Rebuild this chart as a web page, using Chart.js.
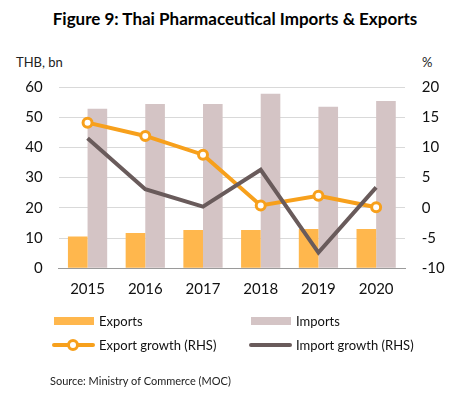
<!DOCTYPE html>
<html>
<head>
<meta charset="utf-8">
<script src="https://cdn.jsdelivr.net/npm/chart.js@4.4.0/dist/chart.umd.min.js"></script>
<style>
    html, body { margin: 0; padding: 0; background: #fff; }
    body { width: 453px; height: 399px; position: relative; overflow: hidden; font-family: Lato, sans-serif; color: #000; }
    .title { position: absolute; left: 0; top: 7px; width: 470px; text-align: center; font-weight: bold; font-size: 17px; line-height: 24px; }
    .axis-title { position: absolute; top: 54px; font-size: 13px; line-height: 16px; color: #222; }
    #wrap { position: absolute; left: 0; top: 40px; width: 453px; height: 270px; }
    #legend { position: absolute; left: 52px; top: 309px; display: grid; grid-template-columns: 197px 197px; grid-auto-rows: 24px; font-size: 13px; }
    .item { display: flex; align-items: center; color: #111; }
    .swatch { width: 42px; height: 24px; margin-right: 5px; position: relative; }
    .source { position: absolute; left: 50px; top: 374px; font-size: 11px; line-height: 14px; color: #222; }
</style>
</head>
<body>
<div class="title">Figure 9: Thai Pharmaceutical Imports &amp; Exports</div>
<div class="axis-title" style="left:16px">THB, bn</div>
<div class="axis-title" style="left:422px">%</div>
<div id="wrap"><canvas id="chart" width="453" height="270"></canvas></div>
<div id="legend"></div>
<div class="source">Source: Ministry of Commerce (MOC)</div>

<script>
// values
const years = ['2015', '2016', '2017', '2018', '2019', '2020'];
const exportsBn = [10.5, 11.7, 12.7, 12.7, 13.0, 13.0];
const importsBn = [52.8, 54.4, 54.4, 57.8, 53.5, 55.4];
const exportGrowth = [14.1, 11.9, 8.8, 0.4, 2.0, 0.1];
const importGrowth = [11.5, 3.1, 0.2, 6.3, -7.4, 3.4];

const ORANGE_BAR = '#FFB74D';
const GREY_BAR = '#D4C4C5';
const ORANGE_LINE = '#F7A01C';
const DARK_LINE = '#695B5B';

const tickFont = { family: 'Lato', size: 15 };

const datasets = [
    {
        type: 'bar', label: 'Exports', data: exportsBn, yAxisID: 'y',
        backgroundColor: ORANGE_BAR, order: 2,
        categoryPercentage: 0.68, barPercentage: 1.0,
    },
    {
        type: 'bar', label: 'Imports', data: importsBn, yAxisID: 'y',
        backgroundColor: GREY_BAR, order: 2,
        categoryPercentage: 0.68, barPercentage: 1.0,
    },
    {
        type: 'line', label: 'Export growth (RHS)', data: exportGrowth, yAxisID: 'y1',
        borderColor: ORANGE_LINE, borderWidth: 4, order: 1,
        pointRadius: 4.5, pointBorderWidth: 3,
        pointBackgroundColor: '#fff', pointBorderColor: ORANGE_LINE,
        tension: 0,
    },
    {
        type: 'line', label: 'Import growth (RHS)', data: importGrowth, yAxisID: 'y1',
        borderColor: DARK_LINE, borderWidth: 4, order: 0,
        pointRadius: 0, tension: 0,
    },
];

const chart = new Chart(document.getElementById('chart').getContext('2d'), {
    data: { labels: years, datasets: datasets },
    options: {
        responsive: false,
        animation: false,
        layout: { padding: { top: 47, bottom: 0, left: 0, right: 0 } },
        plugins: { legend: { display: false }, tooltip: { enabled: false } },
        scales: {
            x: {
                grid: { display: false, drawTicks: false },
                border: { display: true, color: '#9A9A9A', width: 1 },
                ticks: { font: tickFont, color: '#111', padding: 12 },
                afterFit: (s) => { s.height = 41.7; },
            },
            y: {
                position: 'left', min: 0, max: 60,
                ticks: { stepSize: 10, font: tickFont, color: '#111', padding: 16 },
                grid: { color: '#D9D9D9', lineWidth: 1, drawTicks: false },
                border: { display: false },
                afterFit: (s) => { s.width = 58.7; },
            },
            y1: {
                position: 'right', min: -10, max: 20,
                ticks: { stepSize: 5, font: tickFont, color: '#111', padding: 16.7 },
                grid: { drawOnChartArea: false, drawTicks: false },
                border: { display: false },
                afterFit: (s) => { s.width = 48; },
            },
        },
    },
});

// legend in two columns, built from the chart's datasets
const legend = document.getElementById('legend');
chart.data.datasets.forEach((ds) => {
    const item = document.createElement('div');
    item.className = 'item';
    const sw = document.createElement('div');
    sw.className = 'swatch';
    if (ds.type === 'bar') {
        sw.innerHTML = '<div style="position:absolute;left:2px;top:8px;width:40px;height:8px;background:' + ds.backgroundColor + '"></div>';
    } else {
        let html = '<div style="position:absolute;left:0;top:10px;width:43px;height:4px;border-radius:2px;background:' + ds.borderColor + '"></div>';
        if (ds.pointRadius > 0) {
            html += '<div style="position:absolute;left:15px;top:6px;width:6px;height:6px;border:3px solid ' + ds.pointBorderColor + ';border-radius:50%;background:#fff"></div>';
        }
        sw.innerHTML = html;
    }
    item.appendChild(sw);
    const txt = document.createElement('span');
    txt.textContent = ds.label;
    item.appendChild(txt);
    legend.appendChild(item);
});
</script>
</body>
</html>
